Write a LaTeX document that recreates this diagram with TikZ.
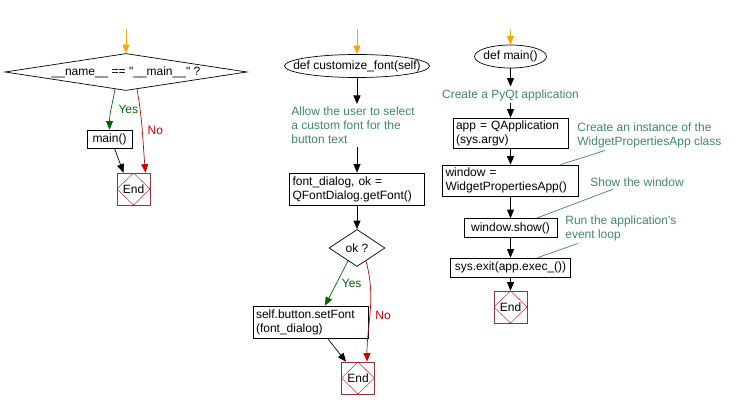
\documentclass[tikz,border=0pt]{standalone}
\usepackage{fontspec}
\setmainfont{Liberation Sans}
\usepackage{tikz}
\usetikzlibrary{arrows.meta, shapes.geometric, positioning}
\definecolor{notegreen}{RGB}{64,136,104}
\definecolor{yesgreen}{RGB}{0,102,0}
\definecolor{nored}{RGB}{204,0,0}
\definecolor{endred}{RGB}{153,51,51}
\definecolor{startorange}{RGB}{255,165,0}

\begin{document}
\begin{tikzpicture}[x=1pt,y=1pt,font=\fontsize{12}{14}\selectfont,node distance=1.cm,->,>={Triangle[length=8.5pt,width=7pt]},line width=0.7pt]

	\tikzset{proc/.style={rectangle, draw, inner xsep=3pt, inner ysep=2pt, align=left}}
	\tikzset{decide/.style={diamond, draw, inner sep=0pt, aspect=1.5}}
	\tikzset{func/.style={ellipse, draw, inner xsep=-20pt, inner ysep=0pt, minimum height=23pt}}
	\tikzset{remark/.style={text=notegreen, inner xsep=2pt, inner ysep=2.5pt, align=left}}
	\tikzset{endbox/.style={rectangle, draw=endred, inner sep=0pt,
			minimum width=33pt, minimum height=32pt,
			path picture={\draw[-, nored, line width=0.4pt]
				(path picture bounding box.north) -- (path picture bounding box.east) --
				(path picture bounding box.south) -- (path picture bounding box.west) -- cycle;}}}
	\tikzset{startarr/.style={draw=startorange, fill=startorange}}
	\tikzset{yesarr/.style={draw=yesgreen}}
	\tikzset{noarr/.style={draw=nored}}
	\tikzset{notelink/.style={-, draw=notegreen}}
	\tikzset{yeslbl/.style={text=yesgreen, inner sep=0pt}}
	\tikzset{nolbl/.style={text=nored, inner sep=0pt}}

	\useasboundingbox (0,0) rectangle (738,-409);

	% if __name__ == "__main__"
	\node[decide, aspect=7, minimum width=242pt, minimum height=37pt] (namechk) at (126,-72) {\_\_name\_\_ == \textquotedbl\_\_main\_\_\textquotedbl{} ?};
	\coordinate[above=24pt of namechk] (top1);
	\node[proc, align=center, minimum width=45pt, minimum height=18pt] (maincall) at (109.5,-139) {main()};
	\node[endbox] (end1) at (133.5,-189) {End};

	\draw[startarr] (top1) -- (namechk);
	\draw[yesarr] ([xshift=-11pt,yshift=1.7pt]namechk.south) to[out=-100,in=90]
		node[yeslbl, pos=.5, right=7pt] {Yes} (maincall.north);
	\draw[noarr] ([xshift=11pt,yshift=1.7pt]namechk.south) to[out=-80,in=95]
		node[nolbl, pos=.5, right=5pt] {No} ([xshift=12pt]end1.north);
	\draw ([xshift=5pt]maincall.south) -- ([xshift=-10pt]end1.north);

	% customize_font
	\node[func, minimum width=145pt] (custdef) at (357,-66) {def customize\_font(self)};
	\coordinate[above=25pt of custdef] (top2);
	\node[remark, anchor=north west] (selnote) at (289,-104) {Allow the user to select\\a custom font for the\\button text};
	\node[proc, text width=129pt, minimum height=32pt] (fontdlg) at (357,-189) {font\_dialog, ok =\\QFontDialog.getFont()};
	\node[decide, minimum width=56pt, minimum height=37pt] (okchk) at (357,-248) {ok ?};
	\node[proc, text width=109pt, minimum height=32pt] (setfont) at (310.5,-322) {self.button.setFont\\(font\_dialog)};
	\node[endbox] (end2) at (358,-378) {End};

	\draw[startarr] (top2) -- (custdef);
	\draw (custdef) -- (custdef |- selnote.north);
	\draw (custdef |- selnote.south) -- (fontdlg);
	\draw (fontdlg) -- (okchk);
	\draw[yesarr] ([xshift=-9pt,yshift=5.9pt]okchk.south) --
		node[yeslbl, right=5pt] {Yes} ([xshift=14.5pt]setfont.north);
	\draw[noarr] ([xshift=9pt,yshift=5.9pt]okchk.south) to[out=-75,in=90]
		node[nolbl, pos=.55, right=5pt] {No} ([xshift=9pt]end2.north);
	\draw ([xshift=17pt]setfont.south) -- ([xshift=-12pt]end2.north);

	% main
	\node[func, minimum width=72pt] (maindef) at (510.5,-56.5) {def main()};
	\coordinate[above=15pt of maindef] (top3);
	\node[remark] (appnote) at (510.5,-95) {Create a PyQt application};
	\node[proc, text width=109pt, minimum height=30pt] (appinit) at (510.5,-133) {app = QApplication\\(sys.argv)};
	\node[proc, text width=130pt, minimum height=31pt] (wininit) at (510.5,-180.5) {window =\\WidgetPropertiesApp()};
	\node[proc, align=center, minimum width=93pt, minimum height=19pt] (winshow) at (510.5,-228) {window.show()};
	\node[proc, align=center, minimum width=120pt, minimum height=19pt] (sysexit) at (510.5,-267.5) {sys.exit(app.exec\_())};
	\node[endbox] (end3) at (510.5,-307) {End};

	\node[remark, anchor=west] (instnote) at (575,-135) {Create an instance of the\\WidgetPropertiesApp class};
	\node[remark, anchor=west] (shownote) at (588,-182) {Show the window};
	\node[remark, anchor=west] (loopnote) at (563,-228) {Run the application\textquotesingle s\\event loop};

	\draw[startarr] (top3) -- (maindef);
	\draw (maindef) -- (appnote);
	\draw (appnote) -- (appinit);
	\draw (appinit) -- (wininit);
	\draw (wininit) -- (winshow);
	\draw (winshow) -- (sysexit);
	\draw (sysexit) -- (end3);

	\draw[notelink] ([xshift=30pt]instnote.south west) -- ([xshift=50pt]wininit.north);
	\draw[notelink] ([xshift=25pt]shownote.south west) -- ([xshift=26pt]winshow.north);
	\draw[notelink] ([xshift=15pt]loopnote.south west) -- ([xshift=27pt]sysexit.north);
\end{tikzpicture}
\end{document}
